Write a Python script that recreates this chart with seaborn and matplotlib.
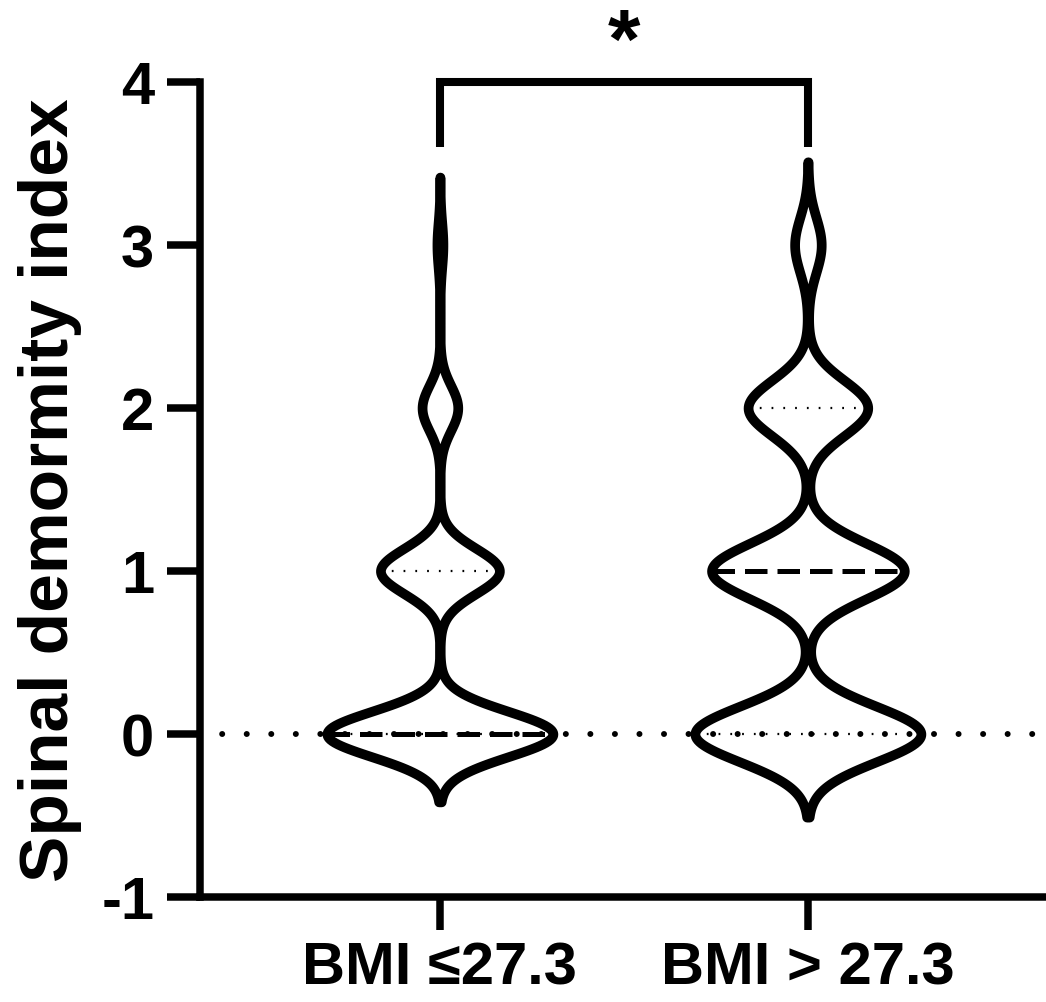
import numpy as np
import pandas as pd
import matplotlib
matplotlib.use("Agg")
import matplotlib.pyplot as plt
from matplotlib.collections import LineCollection
import seaborn as sns

# ---- data ----
groups = ["BMI ≤27.3", "BMI > 27.3"]
levels = [0, 1, 2, 3]
counts_low = [38, 20, 6, 1]     # BMI <= 27.3
counts_high = [34, 29, 18, 4]   # BMI > 27.3
y_ticks = [-1, 0, 1, 2, 3, 4]
y_label = "Spinal demormity index"
sig_label = "*"

sns.set_style("ticks")
plt.rcParams["font.family"] = ["Liberation Sans", "DejaVu Sans"]
plt.rcParams["font.weight"] = "bold"

df = pd.DataFrame({
    "group": np.repeat(groups, [sum(counts_low), sum(counts_high)]),
    "value": np.concatenate([np.repeat(levels, counts_low),
                             np.repeat(levels, counts_high)]).astype(float),
})

fig = plt.figure(figsize=(10.46, 10.03), dpi=100)
ax = fig.add_axes([0.1912, 0.1047, 0.8088, 0.8126])

n_lines = len(ax.lines)
n_coll = len(ax.collections)
sns.violinplot(data=df, x="group", y="value", order=groups, color="white",
               linecolor="black", linewidth=7, inner="quart", bw_method=0.19,
               cut=3, gridsize=400, density_norm="width", width=0.614,
               saturation=1, ax=ax)

# restyle quartile lines: thin dotted quartiles, thick dashed median
new_lines = ax.lines[n_lines:]
for i, ln in enumerate(new_lines):
    ln.set_color("black")
    if i % 3 == 1:
        ln.set_linewidth(3.6)
        ln.set_linestyle((0, (4.5, 2.0)))
    else:
        ln.set_linewidth(1.6)
        ln.set_linestyle((0, (0.8, 4.5)))
    ln.set_zorder(4)
for c in ax.collections[n_coll:]:
    if isinstance(c, LineCollection):
        nseg = len(c.get_segments())
        c.set_color("black")
        c.set_linewidths([3.6 if k % 3 == 1 else 1.6 for k in range(nseg)])
        c.set_linestyles([(0, (4.5, 2.0)) if k % 3 == 1 else (0, (0.8, 4.5))
                          for k in range(nseg)])
        c.set_zorder(4)

# dotted reference line at 0
ax.axhline(0, color="black", lw=4.3, linestyle=(0.4, (0.01, 4.1)),
           dash_capstyle="round", zorder=3)

ax.set_xlim(-0.652, 1.647)
ax.set_ylim(-1, 4)
ax.set_yticks(y_ticks)
ax.set_yticklabels([str(t) for t in y_ticks])

for s in ["top", "right"]:
    ax.spines[s].set_visible(False)
for s in ["left", "bottom"]:
    ax.spines[s].set_linewidth(5.4)
    ax.spines[s].set_color("black")
ax.tick_params(axis="both", width=5.4, length=24, color="black",
               labelsize=43, labelcolor="black")
ax.tick_params(axis="y", pad=9)
ax.tick_params(axis="x", pad=7)
for lab in ax.get_xticklabels() + ax.get_yticklabels():
    lab.set_fontweight("bold")

ax.set_xlabel("")
ax.set_ylabel(y_label, fontsize=50, fontweight="bold", color="black")
ax.yaxis.set_label_coords(-0.1395, 0.5)

# significance bracket
ax.plot([0, 0, 1, 1], [3.6, 4, 4, 3.6], color="black", lw=5.8,
        solid_capstyle="butt", solid_joinstyle="miter", clip_on=False, zorder=5)
ax.text(0.5, 4.23, sig_label, ha="center", va="center", fontsize=60,
        fontweight="bold", color="black", clip_on=False)

fig.savefig("out.png", dpi=100, facecolor="white")
